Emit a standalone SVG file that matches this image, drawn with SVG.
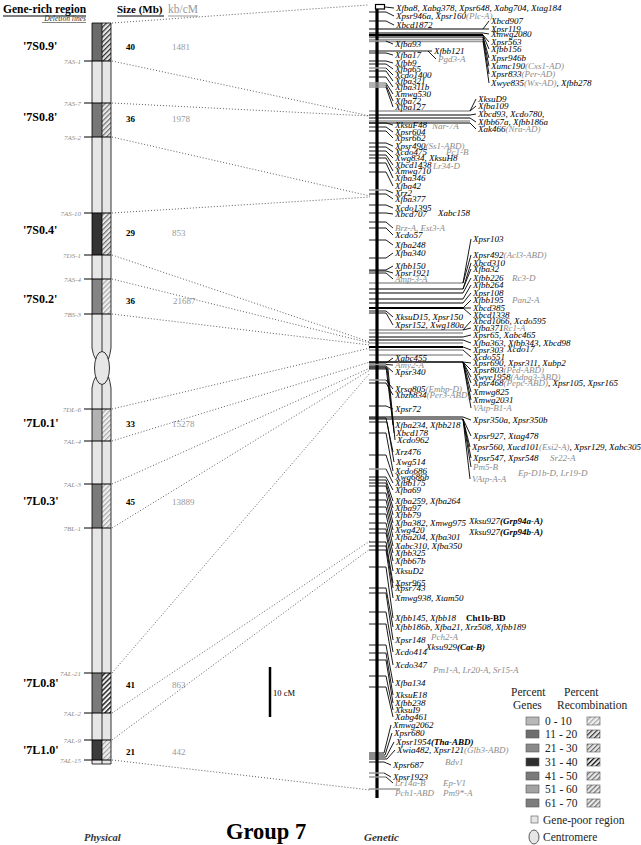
<svg xmlns="http://www.w3.org/2000/svg" width="641" height="845" viewBox="0 0 641 845">
<defs>
<pattern id="hBlack" width="3.5" height="3.5" patternUnits="userSpaceOnUse" patternTransform="rotate(45)"><rect width="3.5" height="3.5" fill="#eee"/><line x1="0.6" y1="0" x2="0.6" y2="3.5" stroke="#111" stroke-width="1.5"/></pattern>
<pattern id="hDark" width="3.5" height="3.5" patternUnits="userSpaceOnUse" patternTransform="rotate(45)"><rect width="3.5" height="3.5" fill="#e4e4e4"/><line x1="0.6" y1="0" x2="0.6" y2="3.5" stroke="#333" stroke-width="1.2"/></pattern>
<pattern id="hMed" width="3.5" height="3.5" patternUnits="userSpaceOnUse" patternTransform="rotate(45)"><rect width="3.5" height="3.5" fill="#e8e8e8"/><line x1="0.6" y1="0" x2="0.6" y2="3.5" stroke="#666" stroke-width="1.1"/></pattern>
<pattern id="hLight" width="3.5" height="3.5" patternUnits="userSpaceOnUse" patternTransform="rotate(45)"><rect width="3.5" height="3.5" fill="#eee"/><line x1="0.6" y1="0" x2="0.6" y2="3.5" stroke="#9a9a9a" stroke-width="1"/></pattern>
</defs>
<style>
.m{font-family:"Liberation Serif","Times New Roman",serif;font-style:italic;font-size:9px;fill:#000}
.gr{fill:#8c8c8c}
.bi{font-weight:bold}
.bn{font-weight:bold;font-style:normal}
.cn{stroke:#000;stroke-width:0.9;fill:none}
.tg{stroke:#9a9a9a;stroke-width:1.5;fill:none}
.hl{stroke:#000;stroke-width:1;fill:none}
.hg{stroke:#9a9a9a;stroke-width:1.5;fill:none}
.dot{stroke:#333;stroke-width:0.8;stroke-dasharray:1 2;fill:none}
.dl{font-family:"Liberation Serif","Times New Roman",serif;font-style:italic;font-size:7px;fill:#8c8c8c;text-anchor:end}
.rn{font-family:"Liberation Serif","Times New Roman",serif;font-weight:bold;font-size:12px;fill:#000}
.sz{font-family:"Liberation Serif","Times New Roman",serif;font-weight:bold;font-size:9px;fill:#000}
.kb{font-family:"Liberation Serif","Times New Roman",serif;font-size:9px;fill:#999}
.lg{font-family:"Liberation Serif","Times New Roman",serif;font-size:11.5px;fill:#222}
.bd{stroke:#000;stroke-width:1}
.gp{fill:#e6e6e6}
.ol{stroke:#000;stroke-width:0.8;fill:none}
</style>
<rect width="641" height="845" fill="#fff"/>

<!-- Headers -->
<g id="headers" font-family="Liberation Serif, Times New Roman, serif">
<text x="3" y="13" font-size="11.5" font-weight="bold">Gene-rich region</text>
<line x1="3" y1="16" x2="86" y2="16" stroke="#000" stroke-width="1"/>
<text x="86" y="21" font-size="7.5" font-style="italic" text-anchor="end" fill="#333">Deletion lines</text>
<line x1="42" y1="22.5" x2="86" y2="22.5" stroke="#333" stroke-width="0.6"/>
<text x="117" y="13" font-size="11" font-weight="bold">Size (Mb)</text>
<line x1="117" y1="16" x2="164" y2="16" stroke="#000" stroke-width="1"/>
<text x="168" y="13" font-size="11.5" fill="#999">kb/cM</text>
<line x1="168" y1="16" x2="198" y2="16" stroke="#999" stroke-width="1"/>
</g>

<!-- Physical chromosome -->
<g id="physical-chromosome">
<rect class="gp" x="92" y="23" width="19" height="325"/>
<rect class="gp" x="92" y="388" width="19" height="376"/>
<rect x="92" y="23" width="10" height="38" fill="#6b6b6b"/><rect x="102" y="23" width="9" height="38" fill="url(#hDark)"/>
<rect x="92" y="103" width="10" height="34" fill="#777"/><rect x="102" y="103" width="9" height="34" fill="url(#hMed)"/>
<rect x="92" y="213" width="10" height="42" fill="#333"/><rect x="102" y="213" width="9" height="42" fill="url(#hMed)"/>
<rect x="92" y="279" width="10" height="35" fill="#848484"/><rect x="102" y="279" width="9" height="35" fill="url(#hLight)"/>
<rect x="92" y="409" width="10" height="32" fill="#b2b2b2"/><rect x="102" y="409" width="9" height="32" fill="url(#hLight)"/>
<rect x="92" y="484" width="10" height="44" fill="#7a7a7a"/><rect x="102" y="484" width="9" height="44" fill="url(#hLight)"/>
<rect x="92" y="673" width="10" height="40" fill="#7a7a7a"/><rect x="102" y="673" width="9" height="40" fill="url(#hBlack)"/>
<rect x="92" y="740" width="10" height="20" fill="#3c3c3c"/><rect x="102" y="740" width="9" height="20" fill="url(#hLight)"/>
<polygon class="gp" points="92,348 111,348 108.5,359 95.5,359"/>
<polygon class="gp" points="95.5,377 108.5,377 111,388 92,388"/>
<path class="ol" d="M92,23H111M92,23V348Q93,355 95.5,359M111,23V348Q110,355 108.5,359M102,23V352"/>
<path class="ol" d="M95.5,377Q93,381 92,388V764H111V388Q110,381 108.5,377M102,384.5V764"/>
<ellipse cx="102" cy="368" rx="7.5" ry="16.5" fill="#e6e6e6" stroke="#000" stroke-width="0.8"/>
<path class="bd" d="M84,61H111M84,103H111M84,137H111M84,213H111M84,255H111M84,279H111M84,314H111M84,409H111M84,441H111M84,484H111M84,528H111M84,673H111M84,713H111M84,740H111M84,760H111"/>
</g>

<g id="deletion-lines">
<text class="dl" x="81" y="63.5">7AS-1</text>
<text class="dl" x="81" y="105.5">7AS-7</text>
<text class="dl" x="81" y="139.5">7AS-2</text>
<text class="dl" x="81" y="215.5">7AS-10</text>
<text class="dl" x="81" y="257.5">7DS-1</text>
<text class="dl" x="81" y="281.5">7AS-4</text>
<text class="dl" x="81" y="316.5">7BS-3</text>
<text class="dl" x="81" y="411.5">7DL-6</text>
<text class="dl" x="81" y="443.5">7AL-4</text>
<text class="dl" x="81" y="486.5">7AL-3</text>
<text class="dl" x="81" y="530.5">7BL-1</text>
<text class="dl" x="81" y="675.5">7AL-21</text>
<text class="dl" x="81" y="715.5">7AL-2</text>
<text class="dl" x="81" y="742.5">7AL-9</text>
<text class="dl" x="81" y="762.5">7AL-15</text>
</g>

<g id="region-7S0.9"><text class="rn" x="23" y="50">'7S0.9'</text><text class="sz" x="126" y="50">40</text><text class="kb" x="172" y="50">1481</text></g>
<g id="region-7S0.8"><text class="rn" x="23" y="121">'7S0.8'</text><text class="sz" x="126" y="122">36</text><text class="kb" x="172" y="122">1978</text></g>
<g id="region-7S0.4"><text class="rn" x="23" y="234">'7S0.4'</text><text class="sz" x="126" y="236">29</text><text class="kb" x="172" y="236">853</text></g>
<g id="region-7S0.2"><text class="rn" x="23" y="303">'7S0.2'</text><text class="sz" x="126" y="304">36</text><text class="kb" x="173" y="304">21687</text></g>
<g id="region-7L0.1"><text class="rn" x="23" y="427">'7L0.1'</text><text class="sz" x="126" y="427">33</text><text class="kb" x="172" y="427">15278</text></g>
<g id="region-7L0.3"><text class="rn" x="23" y="505">'7L0.3'</text><text class="sz" x="126" y="505">45</text><text class="kb" x="172" y="505">13889</text></g>
<g id="region-7L0.8"><text class="rn" x="23" y="687">'7L0.8'</text><text class="sz" x="126" y="688">41</text><text class="kb" x="172" y="688">863</text></g>
<g id="region-7L1.0"><text class="rn" x="23" y="754">'7L1.0'</text><text class="sz" x="126" y="755">21</text><text class="kb" x="172" y="755">442</text></g>

<!-- Connectors -->
<g id="connectors">
<path class="dot" d="M112,23L368,5M112,61L370,116M112,103L370,116M112,137L370,196M112,213L370,197M112,255L370,342M112,279L370,343M112,314L370,345M112,409L370,348M112,441L370,362M112,484L370,368M112,528L370,370M112,673L370,373M112,713L370,541M112,740L370,549M112,760L370,790"/>
<path class="hl" d="M369,29H483M369,33H483M369,37H483"/>
<path d="M369,35H483" stroke="#000" stroke-width="2.2"/>
<path class="hg" d="M369,39.5H483M369,41.5H483"/>
<path class="hl" d="M369,115H470M369,118H470M369,123H470"/>
<path class="hg" d="M369,111H470M369,121H470"/>
<path class="hl" d="M369,289H463M369,293H463M369,299H463M369,303H463M369,337H463M369,340H463"/>
<path d="M369,308H463M369,347H463" stroke="#000" stroke-width="2.2"/>
<path class="hg" d="M369,283H463M369,330H463M369,333H463M369,343H463M369,350H463M369,355H463"/>
<path d="M369,362H463" stroke="#000" stroke-width="1.3"/>
<path class="hl" d="M369,417H463M369,419H463"/>
</g>

<!-- Genetic chromosome -->
<g id="genetic-chromosome">
<line x1="377" y1="5" x2="377" y2="798" stroke="#000" stroke-width="3.2"/>
<rect x="375.5" y="4.5" width="9" height="4.5" fill="#fff" stroke="#000" stroke-width="1.2"/>
</g>

<!-- Left markers -->
<g id="m1"><path class="cn" d="M385,7L394,8"/><text class="m" x="396" y="11">Xfba8, Xabg378, Xpsr648, Xabg704, Xtag184</text></g>
<g id="m2"><path class="cn" d="M369,12H386L394,16"/><text class="m" x="396" y="19">Xpsr946a, Xpsr160<tspan class="gr">(Plc-A)</tspan></text></g>
<g id="m3"><path class="cn" d="M369,21H386L394,25"/><text class="m" x="396" y="28">Xbcd1872</text></g>
<g id="m4"><path class="tg" d="M369,41H386"/><path class="cn" d="M386,41L393,44"/><text class="m" x="395" y="47">Xfba93</text></g>
<g id="m5"><path class="cn" d="M369,51H432"/><text class="m" x="434" y="54">Xfbb121</text></g>
<g id="m5b"><path class="cn" d="M428,51L436,59"/><text class="m gr" x="438" y="62">Pgd3-A</text></g>
<g id="m6"><path class="cn" d="M369,53H386L393,55"/><text class="m" x="395" y="58">Xfba17</text></g>
<g id="m7"><path class="cn" d="M369,61H386L393,63"/><text class="m" x="395" y="66">Xfbb9</text></g>
<g id="m8"><path class="cn" d="M369,64H386L393,69"/><text class="m" x="395" y="72">Xfba65</text></g>
<g id="m9"><path class="tg" d="M369,68H386"/><path class="cn" d="M386,68L393,75"/><text class="m" x="395" y="78">Xcdo1400</text></g>
<g id="m10"><path class="cn" d="M369,71H386L393,81"/><text class="m" x="395" y="84">Xfba321</text></g>
<g id="m11"><path class="cn" d="M369,77H386L393,87"/><text class="m" x="395" y="90">Xfba311b</text></g>
<g id="m12"><path class="tg" d="M369,83H386"/><path class="cn" d="M386,83L393,94"/><text class="m" x="395" y="97">Xmwg530</text></g>
<g id="m13"><path class="tg" d="M369,85H386"/><path class="cn" d="M386,85L393,101"/><text class="m" x="395" y="104">Xfba72</text></g>
<g id="m14"><path class="tg" d="M369,87H386"/><path class="cn" d="M386,87L393,107"/><text class="m" x="395" y="110">Xfba127</text></g>
<g id="m15"><path class="cn" d="M369,123H386L393,125"/><text class="m" x="395" y="128">XksuF48</text><text class="m gr" x="432" y="129">Nar-7A</text></g>
<g id="m16"><path class="cn" d="M369,127H386L393,132"/><text class="m" x="395" y="135">Xpsr604</text></g>
<g id="m17"><path class="cn" d="M369,131H386L393,138"/><text class="m" x="395" y="141">Xpsr662</text></g>
<g id="m18"><path class="cn" d="M369,143H386L393,146"/><text class="m" x="395" y="149">Xpsr490<tspan class="gr">(Ss1-ABD)</tspan></text></g>
<g id="m19"><path class="cn" d="M369,147H386L393,152"/><text class="m" x="395" y="155">Xcdo475</text><text class="m gr" x="446" y="155">Pc1-B</text></g>
<g id="m20"><path class="cn" d="M369,151H386L393,158"/><text class="m" x="395" y="161">Xwg834, XksuH8</text></g>
<g id="m21"><path class="cn" d="M369,155H386L393,165"/><text class="m" x="395" y="168">Xbcd1438</text><text class="m gr" x="433" y="169">Lr34-D</text></g>
<g id="m22"><path class="cn" d="M369,158H386L393,171"/><text class="m" x="395" y="174">Xmwg710</text></g>
<g id="m23"><path class="cn" d="M369,163H386L393,178"/><text class="m" x="395" y="181">Xfba346</text></g>
<g id="m24"><path class="cn" d="M369,172H386L393,186"/><text class="m" x="395" y="189">Xfba42</text></g>
<g id="m25"><path class="tg" d="M369,190H386"/><path class="cn" d="M386,190L393,193"/><text class="m" x="395" y="196">Xrz2</text></g>
<g id="m26"><path class="cn" d="M369,194H386L393,199"/><text class="m" x="395" y="202">Xfba377</text></g>
<g id="m27"><path class="cn" d="M369,205H386L393,208"/><text class="m" x="395" y="211">Xcdo1395</text></g>
<g id="m28"><path class="cn" d="M369,213H386L393,214"/><text class="m" x="395" y="217">Xbcd707</text><text class="m" x="438" y="216">Xabc158</text></g>
<g id="m29"><path class="cn" d="M369,222H386L393,228"/><text class="m gr" x="395" y="231">Brz-A, Est3-A</text></g>
<g id="m30"><path class="cn" d="M369,228H386L393,235"/><text class="m" x="395" y="238">Xcdo57</text></g>
<g id="m31"><path class="cn" d="M369,240H386L393,245"/><text class="m" x="395" y="248">Xfba248</text></g>
<g id="m32"><path class="cn" d="M369,258H386L393,253"/><text class="m" x="395" y="256">Xfba340</text></g>
<g id="m33"><path class="cn" d="M369,270H386L393,266"/><text class="m" x="395" y="269">Xfbb150</text></g>
<g id="m34"><path class="cn" d="M369,271H386L393,273"/><text class="m" x="395" y="276">Xpsr1921</text></g>
<g id="m35"><path class="cn" d="M369,273H386L393,279"/><text class="m gr" x="395" y="282">Amp-3-A</text></g>
<g id="m36"><path class="cn" d="M369,311H386L393,317"/><text class="m" x="395" y="320">XksuD15, Xpsr150</text></g>
<g id="m37"><path class="cn" d="M369,313H386L393,325"/><text class="m" x="395" y="328">Xpsr152, Xwg180a</text></g>
<g id="m38"><path class="cn" d="M369,363H386L393,358"/><text class="m" x="395" y="361">Xabc455</text></g>
<g id="m39"><path class="tg" d="M369,364.5H386"/><path class="cn" d="M386,364.5L393,365"/><text class="m gr" x="395" y="368">Amy2-A</text></g>
<g id="m40"><path class="cn" d="M369,366H386L393,372"/><text class="m" x="395" y="375">Xpsr340</text></g>
<g id="m41"><path class="tg" d="M369,380H386"/><path class="cn" d="M386,380L393,389"/><text class="m" x="395" y="392">Xrsq805<tspan class="gr">(Embp-D)</tspan></text></g>
<g id="m42"><path class="cn" d="M369,383H386L393,395"/><text class="m" x="395" y="398">Xbzh834<tspan class="gr">(Per3-ABD)</tspan></text></g>
<g id="m43"><path class="cn" d="M369,406H386L393,409"/><text class="m" x="395" y="412">Xpsr72</text></g>
<g id="m44"><path class="cn" d="M369,367H386L393,425"/><text class="m" x="395" y="428">Xfba234, Xfbb218</text></g>
<g id="m45"><path class="cn" d="M369,368H387L394,433"/><text class="m" x="396" y="436">Xbcd178</text></g>
<g id="m46"><path class="cn" d="M369,369H388L395,440"/><text class="m" x="397" y="443">Xcdo962</text></g>
<g id="m47"><path class="cn" d="M369,418H386L393,452"/><text class="m" x="395" y="455">Xrz476</text></g>
<g id="m48"><path class="cn" d="M369,422H387L394,462"/><text class="m" x="396" y="465">Xwg514</text></g>
<g id="m49"><path class="cn" d="M369,433H386L393,471"/><text class="m" x="395" y="474">Xcdo686</text></g>
<g id="m50"><path class="cn" d="M369,455H386L393,477"/><text class="m" x="395" y="480">Xwg686b</text></g>
<g id="m51"><path class="tg" d="M369,469H386"/><path class="cn" d="M386,469L393,483"/><text class="m" x="395" y="486">Xfbb175</text></g>
<g id="m52"><path class="cn" d="M369,477H386L393,490"/><text class="m" x="395" y="493">Xfba69</text></g>
<g id="m53"><path class="cn" d="M369,480H386L393,501"/><text class="m" x="395" y="504">Xfba259, Xfba264</text></g>
<g id="m54"><path class="cn" d="M369,483H386L393,508"/><text class="m" x="395" y="511">Xfba97</text></g>
<g id="m55"><path class="cn" d="M369,486H386L393,515"/><text class="m" x="395" y="518">Xfbb79</text></g>
<g id="m56"><path class="cn" d="M369,493H386L393,523"/><text class="m" x="395" y="526">Xfba382, Xmwg975</text></g>
<g id="m57"><path class="cn" d="M369,500H386L393,530"/><text class="m" x="395" y="533">Xwg420</text></g>
<g id="m58"><path class="cn" d="M369,507H386L393,537"/><text class="m" x="395" y="540">Xfba204, Xfba301</text></g>
<g id="m59"><path class="cn" d="M369,514H386L393,546"/><text class="m" x="395" y="549">Xabc310, Xfba350</text></g>
<g id="m60"><path class="cn" d="M369,523H386L393,553"/><text class="m" x="395" y="556">Xfbb325</text></g>
<g id="m61"><path class="cn" d="M369,529H386L393,561"/><text class="m" x="395" y="564">Xfbb67b</text></g>
<g id="m62"><path class="cn" d="M369,533H386L393,571"/><text class="m" x="395" y="574">XksuD2</text></g>
<g id="m63"><path class="cn" d="M369,542H386L393,583"/><text class="m" x="395" y="586">Xpsr965</text></g>
<g id="m64"><path class="cn" d="M369,546H386L393,588"/><text class="m" x="395" y="591">Xpsr743</text></g>
<g id="m65"><path class="cn" d="M369,550H386L393,598"/><text class="m" x="395" y="601">Xmwg938, Xtam50</text></g>
<g id="m66"><path class="cn" d="M369,567H386L393,618"/><text class="m" x="395" y="621">Xfbb145, Xfbb18</text><text class="m bn" x="466" y="621">Cht1b-BD</text></g>
<g id="m67"><path class="cn" d="M369,588H386L393,627"/><text class="m" x="395" y="630">Xfbb186b, Xfba21, Xrz508, Xfbb189</text></g>
<g id="m68"><path class="cn" d="M369,593H386L393,640"/><text class="m" x="395" y="643">Xpsr148</text><text class="m gr" x="431" y="640">Pch2-A</text></g>
<g id="m69"><text class="m" x="426" y="650">Xksu929<tspan class="bi">(Cat-B)</tspan></text></g>
<g id="m70"><path class="cn" d="M369,612H386L393,652"/><text class="m" x="395" y="655">Xcdo414</text></g>
<g id="m71"><path class="cn" d="M369,624H386L393,665"/><text class="m" x="395" y="668">Xcdo347</text><text class="m gr" x="433" y="673">Pm1-A, Lr20-A, Sr15-A</text></g>
<g id="m72"><path class="cn" d="M369,645H386L393,683"/><text class="m" x="395" y="686">Xfba134</text></g>
<g id="m73"><path class="cn" d="M369,653H386L393,695"/><text class="m" x="395" y="698">XksuE18</text></g>
<g id="m74"><path class="cn" d="M369,660H386L393,703"/><text class="m" x="395" y="706">Xfbb238</text></g>
<g id="m75"><path class="cn" d="M369,676H386L393,710"/><text class="m" x="395" y="713">XksuI9</text></g>
<g id="m76"><path class="cn" d="M369,687H386L393,717"/><text class="m" x="395" y="720">Xabg461</text></g>
<g id="m77"><path class="cn" d="M369,753H384L391,725"/><text class="m" x="393" y="728">Xmwg2062</text></g>
<g id="m78"><path class="cn" d="M369,755H385L392,733"/><text class="m" x="394" y="736">Xpsr680</text></g>
<g id="m79"><path class="cn" d="M369,757H386L394,742"/><text class="m" x="396" y="745">Xpsr1954<tspan class="bi">(Tha-ABD)</tspan></text></g>
<g id="m80"><path class="cn" d="M369,759H387L395,750"/><text class="m" x="397" y="753">Xwia482, Xpsr121<tspan class="gr">(Glb3-ABD)</tspan></text></g>
<g id="m81"><path class="cn" d="M369,762H384L391,765"/><text class="m" x="393" y="768">Xpsr687</text><text class="m gr" x="445" y="765">Bdv1</text></g>
<g id="m82"><path class="tg" d="M369,773H384"/><path class="cn" d="M384,773L391,777"/><text class="m" x="393" y="780">Xpsr1923</text></g>
<g id="m83"><path class="tg" d="M369,777H386"/><path class="cn" d="M386,777L393,783"/><text class="m gr" x="395" y="786">Lr14a-B</text><text class="m gr" x="443" y="786">Ep-V1</text></g>
<g id="m84"><path class="tg" d="M369,789H400"/><text class="m gr" x="395" y="796">Pch1-ABD</text><text class="m gr" x="443" y="796">Pm9*-A</text></g>

<!-- Right markers -->
<g id="r1"><path class="cn" d="M483,29L489,21"/><text class="m" x="491" y="24">Xbcd907</text></g>
<g id="r2"><path class="cn" d="M483,29L489,29"/><text class="m" x="491" y="32">Xpsr119</text></g>
<g id="r3"><path class="cn" d="M483,33L489,34"/><text class="m" x="491" y="37">Xmwg2080</text></g>
<g id="r4"><path class="cn" d="M483,35L489,42"/><text class="m" x="491" y="45">Xpsr563</text></g>
<g id="r5"><path class="cn" d="M483,35L489,49"/><text class="m" x="491" y="52">Xfbb156</text></g>
<g id="r6"><path class="cn" d="M483,37L489,58"/><text class="m" x="491" y="61">Xpsr946b</text></g>
<g id="r7"><path class="cn" d="M483,37L489,66"/><text class="m" x="491" y="69">Xumc190<tspan class="gr">(Cxs1-AD)</tspan></text></g>
<g id="r8"><path class="cn" d="M483,39L489,74"/><text class="m" x="491" y="77">Xpsr833<tspan class="gr">(Per-AD)</tspan></text></g>
<g id="r9"><path class="cn" d="M483,41L489,83"/><text class="m" x="491" y="86">Xwye835<tspan class="gr">(Wx-AD)</tspan>, Xfbb278</text></g>
<g id="r10"><path class="cn" d="M470,111L476,99"/><text class="m" x="478" y="102">XksuD9</text></g>
<g id="r11"><path class="cn" d="M470,111L476,106"/><text class="m" x="478" y="109">Xfba109</text></g>
<g id="r12"><path class="cn" d="M470,115L476,114"/><text class="m" x="478" y="117">Xbcd93, Xcdo780,</text></g>
<g id="r13"><path class="cn" d="M470,118L476,122"/><text class="m" x="478" y="125">Xfbb67a, Xfbb186a</text></g>
<g id="r14"><path class="cn" d="M470,123L476,129"/><text class="m" x="478" y="132">Xak466<tspan class="gr">(Nra-AD)</tspan></text></g>
<g id="r15"><path class="cn" d="M463,283L471,239"/><text class="m" x="473" y="242">Xpsr103</text></g>
<g id="r16"><path class="cn" d="M463,283L471,255"/><text class="m" x="473" y="258">Xpsr492<tspan class="gr">(Acl3-ABD)</tspan></text></g>
<g id="r17"><path class="cn" d="M463,289L471,263"/><text class="m" x="473" y="266">Xbcd310</text></g>
<g id="r18"><path class="cn" d="M463,289L471,269"/><text class="m" x="473" y="272">Xfba32</text></g>
<g id="r19"><path class="cn" d="M463,293L471,278"/><text class="m" x="473" y="281">Xfbb226</text><text class="m gr" x="512" y="281">Rc3-D</text></g>
<g id="r20"><path class="cn" d="M463,299L471,285"/><text class="m" x="473" y="288">Xfbb264</text></g>
<g id="r21"><path class="cn" d="M463,303L471,293"/><text class="m" x="473" y="296">Xpsr108</text></g>
<g id="r22"><path class="cn" d="M463,308L471,300"/><text class="m" x="473" y="303">Xfbb195</text><text class="m gr" x="512" y="303">Pan2-A</text></g>
<g id="r23"><path class="cn" d="M463,308L471,308"/><text class="m" x="473" y="311">Xbcd385</text></g>
<g id="r24"><path class="cn" d="M463,308L471,315"/><text class="m" x="473" y="318">Xbcd1338</text></g>
<g id="r25"><path class="cn" d="M463,330L471,321"/><text class="m" x="473" y="324">Xbcd1066, Xcdo595</text></g>
<g id="r26"><path class="cn" d="M463,330L471,328"/><text class="m" x="473" y="331">Xfba371</text><text class="m gr" x="503" y="331">Rc1-A</text></g>
<g id="r27"><path class="cn" d="M463,337L471,335"/><text class="m" x="473" y="338">Xpsr65, Xabc465</text></g>
<g id="r28"><path class="cn" d="M463,340L471,343"/><text class="m" x="473" y="346">Xfba363, Xfbb343, Xbcd98</text></g>
<g id="r29"><path class="cn" d="M463,347L471,350"/><text class="m" x="473" y="353">Xpsr303</text><text class="m" x="507" y="352">Xcdo17</text></g>
<g id="r30"><path class="cn" d="M463,350L471,357"/><text class="m" x="473" y="360">Xcdo551</text></g>
<g id="r31"><path class="cn" d="M463,362L471,363"/><text class="m" x="473" y="366">Xpsr690, Xpsr311, Xubp2</text></g>
<g id="r32"><path class="cn" d="M463,362L471,370"/><text class="m" x="473" y="373">Xpsr803<tspan class="gr">(Ped-ABD)</tspan></text></g>
<g id="r33"><path class="cn" d="M463,362L471,377"/><text class="m" x="473" y="380">Xwye1958<tspan class="gr">(Adpg3-ABD)</tspan></text></g>
<g id="r34"><path class="cn" d="M463,362L471,383"/><text class="m" x="473" y="386">Xpsr468<tspan class="gr">(Pepc-ABD)</tspan>, Xpsr105, Xpsr165</text></g>
<g id="r35"><path class="cn" d="M463,362L471,392"/><text class="m" x="473" y="395">Xmwg825</text></g>
<g id="r36"><path class="cn" d="M463,362L471,400"/><text class="m" x="473" y="403">Xmwg2031</text></g>
<g id="r37"><path class="cn" d="M463,362L471,408"/><text class="m gr" x="473" y="411">VAtp-B1-A</text></g>
<g id="r38"><path class="cn" d="M463,417L471,420"/><text class="m" x="473" y="423">Xpsr350a, Xpsr350b</text></g>
<g id="r39"><path class="cn" d="M463,419L471,436"/><text class="m" x="473" y="439">Xpsr927, Xtag478</text></g>
<g id="r40"><path class="cn" d="M463,419L470,447"/><text class="m" x="472" y="450">Xpsr560, Xucd101<tspan class="gr">(Esi2-A)</tspan>, Xpsr129, Xabc305</text></g>
<g id="r41"><path class="cn" d="M463,419L471,458"/><text class="m" x="473" y="461">Xpsr547, Xpsr548</text><text class="m gr" x="550" y="461">Sr22-A</text></g>
<g id="r42"><path class="cn" d="M463,419L471,467"/><text class="m gr" x="473" y="470">Pm5-B</text></g>
<g id="r43"><path class="cn" d="M463,419L470,479"/><text class="m gr" x="472" y="482">VAtp-A-A</text></g>
<g id="r44"><text class="m gr" x="518" y="476">Ep-D1b-D, Lr19-D</text></g>
<g id="r45"><text class="m" x="469" y="524">Xksu927<tspan class="bi">(Grp94a-A)</tspan></text></g>
<g id="r46"><text class="m" x="469" y="535">Xksu927<tspan class="bi">(Grp94b-A)</tspan></text></g>

<!-- Scale bar -->
<g id="scale-bar"><line x1="270" y1="667" x2="270" y2="717" stroke="#000" stroke-width="2.5"/><text x="273" y="696" font-family="Liberation Serif, Times New Roman, serif" font-size="8.5">10 cM</text></g>

<!-- Legend -->
<g id="legend">
<text class="lg" x="511" y="696">Percent</text>
<text class="lg" x="513" y="709">Genes</text>
<text class="lg" x="564" y="696">Percent</text>
<text class="lg" x="557" y="709">Recombination</text>
<g stroke="#555" stroke-width="0.6">
<rect x="526" y="717" width="13" height="8" fill="#b8b8b8"/><rect x="587" y="717" width="13" height="8" fill="url(#hLight)"/>
<rect x="526" y="730" width="13" height="8" fill="#6e6e6e"/><rect x="587" y="730" width="13" height="8" fill="url(#hDark)"/>
<rect x="526" y="744" width="13" height="8" fill="#8a8a8a"/><rect x="587" y="744" width="13" height="8" fill="url(#hMed)"/>
<rect x="526" y="758" width="13" height="8" fill="#2e2e2e"/><rect x="587" y="758" width="13" height="8" fill="url(#hBlack)"/>
<rect x="526" y="772" width="13" height="8" fill="#7a7a7a"/><rect x="587" y="772" width="13" height="8" fill="url(#hMed)"/>
<rect x="526" y="785" width="13" height="8" fill="#a3a3a3"/><rect x="587" y="785" width="13" height="8" fill="url(#hMed)"/>
<rect x="526" y="799" width="13" height="8" fill="#7d7d7d"/><rect x="587" y="799" width="13" height="8" fill="url(#hMed)"/>
<rect x="531" y="816" width="7" height="7" fill="#e6e6e6"/>
</g>
<text class="lg" x="545" y="725">0  -  10</text>
<text class="lg" x="545" y="738">11 - 20</text>
<text class="lg" x="545" y="752">21 - 30</text>
<text class="lg" x="545" y="766">31 - 40</text>
<text class="lg" x="545" y="780">41 - 50</text>
<text class="lg" x="545" y="793">51 - 60</text>
<text class="lg" x="545" y="807">61 - 70</text>
<text class="lg" x="543" y="824">Gene-poor region</text>
<ellipse cx="534" cy="837" rx="5" ry="7" fill="#e6e6e6" stroke="#333" stroke-width="0.8"/>
<text class="lg" x="543" y="841">Centromere</text>
</g>

<!-- Footer -->
<g id="footer" font-family="Liberation Serif, Times New Roman, serif">
<text x="84" y="841" font-size="10.5" font-weight="bold" font-style="italic" fill="#333">Physical</text>
<text x="226" y="839" font-size="22.5" font-weight="bold">Group 7</text>
<text x="364" y="841" font-size="11" font-weight="bold" font-style="italic" fill="#333">Genetic</text>
</g>
</svg>
